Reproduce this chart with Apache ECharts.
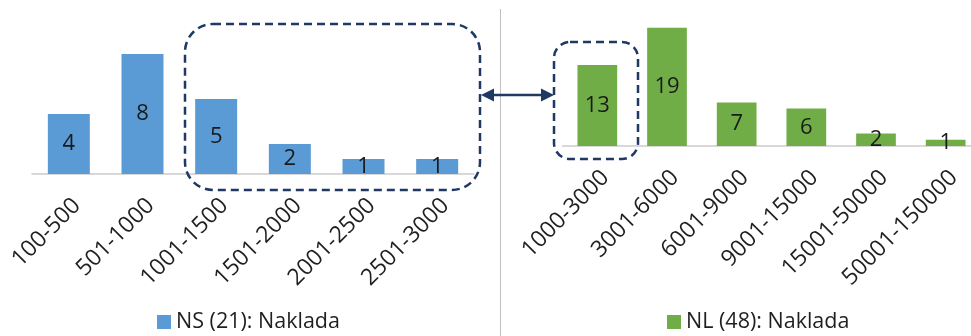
<!DOCTYPE html>
<html>
<head>
<meta charset="utf-8">
<script src="https://cdn.jsdelivr.net/npm/echarts@6/dist/echarts.min.js"></script>
<style>
  html, body { margin: 0; padding: 0; background: #ffffff; }
  #chart { width: 971px; height: 336px; }
</style>
</head>
<body>
<div id="chart"></div>
<script>
// Print-run (naklada) distribution, two publication groups
const nsCategories = ['100-500', '501-1000', '1001-1500', '1501-2000', '2001-2500', '2501-3000'];
const nsValues = [4, 8, 5, 2, 1, 1];
const nsName = 'NS (21): Naklada';

const nlCategories = ['1000-3000', '3001-6000', '6001-9000', '9001-15000', '15001-50000', '50001-150000'];
const nlValues = [13, 19, 7, 6, 2, 1];
const nlName = 'NL (48): Naklada';

const FONT = '"Open Sans", "Noto Sans", sans-serif';
const NAVY = '#203864';

const chart = echarts.init(document.getElementById('chart'), null, { renderer: 'canvas' });

function xAxisFor(idx, cats) {
  return {
    type: 'category',
    gridIndex: idx,
    data: cats,
    axisTick: { show: false },
    axisLine: { show: true, lineStyle: { color: '#cccccc', width: 1.5 } },
    axisLabel: {
      interval: 0,
      rotate: 45,
      margin: 20,
      align: 'right',
      verticalAlign: 'top',
      fontSize: 23,
      fontFamily: FONT,
      color: '#1f1f1f'
    }
  };
}

function yAxisFor(idx, max) {
  return {
    type: 'value',
    gridIndex: idx,
    min: 0,
    max: max,
    show: false,
    splitLine: { show: false }
  };
}

function barSeries(name, idx, values, color) {
  return {
    name: name,
    type: 'bar',
    xAxisIndex: idx,
    yAxisIndex: idx,
    data: values,
    barCategoryGap: '43%',
    itemStyle: { color: color },
    label: {
      show: true,
      position: 'inside',
      fontSize: 22,
      fontFamily: FONT,
      color: '#1a1a1a'
    },
    emphasis: { disabled: true }
  };
}

const option = {
  animation: false,
  backgroundColor: '#ffffff',
  grid: [
    { left: 32, top: 24, width: 442, height: 150, outerBoundsMode: 'none' },
    { left: 562.5, top: 21.4, width: 418, height: 124.6, outerBoundsMode: 'none' }
  ],
  xAxis: [xAxisFor(0, nsCategories), xAxisFor(1, nlCategories)],
  yAxis: [yAxisFor(0, 10), yAxisFor(1, 20)],
  legend: [
    {
      data: [nsName], left: 157, top: 311, padding: 0,
      icon: 'rect', itemWidth: 14, itemHeight: 14,
      textStyle: { fontSize: 21.5, fontFamily: FONT, color: '#1f1f1f' },
      selectedMode: false
    },
    {
      data: [nlName], left: 667, top: 311, padding: 0,
      icon: 'rect', itemWidth: 14, itemHeight: 14,
      textStyle: { fontSize: 21.5, fontFamily: FONT, color: '#1f1f1f' },
      selectedMode: false
    }
  ],
  series: [
    barSeries(nsName, 0, nsValues, '#5b9bd5'),
    barSeries(nlName, 1, nlValues, '#70ad47')
  ],
  graphic: [
    // divider between the two panels
    { type: 'line', shape: { x1: 500.5, y1: 9, x2: 500.5, y2: 336 },
      style: { stroke: '#bfbfbf', lineWidth: 1 }, z: 1 },
    // highlighted ranges
    { type: 'rect', shape: { x: 185, y: 24, width: 295, height: 166, r: 28 },
      style: { fill: null, stroke: NAVY, lineWidth: 2.5, lineDash: [8, 5] }, z: 10 },
    { type: 'rect', shape: { x: 554, y: 42, width: 84, height: 117, r: 16 },
      style: { fill: null, stroke: NAVY, lineWidth: 2.5, lineDash: [8, 5] }, z: 10 },
    // double-headed connector
    { type: 'line', shape: { x1: 490, y1: 95, x2: 545, y2: 95 },
      style: { stroke: NAVY, lineWidth: 2.5 }, z: 11 },
    { type: 'polygon', shape: { points: [[481, 95], [494, 88.5], [494, 101.5]] },
      style: { fill: NAVY }, z: 11 },
    { type: 'polygon', shape: { points: [[554, 95], [541, 88.5], [541, 101.5]] },
      style: { fill: NAVY }, z: 11 }
  ]
};

chart.setOption(option);
</script>
</body>
</html>
